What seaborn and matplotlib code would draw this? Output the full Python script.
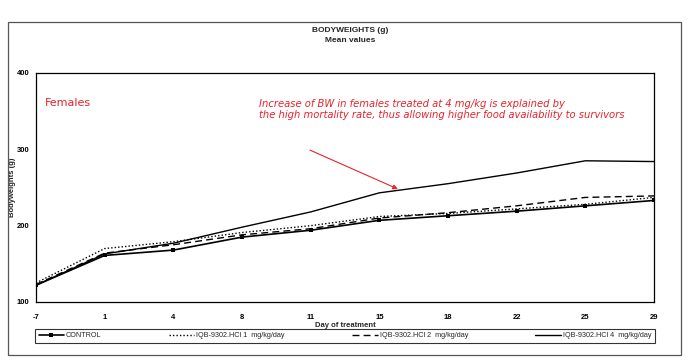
import numpy as np
import pandas as pd
import matplotlib
matplotlib.use("Agg")
import matplotlib.pyplot as plt
from matplotlib.patches import Rectangle
import seaborn as sns

days = ["-7", "1", "4", "8", "11", "15", "18", "22", "25", "29"]
control = [122, 161, 168, 185, 194, 207, 213, 219, 226, 233]
dose1 = [125, 170, 179, 191, 200, 212, 216, 222, 228, 237]
dose2 = [123, 164, 175, 188, 196, 210, 217, 226, 237, 239]
dose4 = [122, 163, 177, 198, 218, 243, 255, 269, 285, 284]

series_names = ["CONTROL", "IQB-9302.HCl 1  mg/kg/day",
                "IQB-9302.HCl 2  mg/kg/day", "IQB-9302.HCl 4  mg/kg/day"]

sns.set_theme(style="white")
plt.rcParams['font.family'] = ['Liberation Sans', 'DejaVu Sans']

rows = []
for name, vals in zip(series_names, [control, dose1, dose2, dose4]):
    for i, (d, v) in enumerate(zip(days, vals)):
        rows.append({"pos": i, "day": d, "bw": v, "group": name})
df = pd.DataFrame(rows)

fig = plt.figure(figsize=(7, 3.63), dpi=100)
ax = fig.add_axes([36 / 700, 1 - 302 / 363, (654 - 36) / 700, (302 - 73) / 363])

styles = {
    series_names[0]: dict(ls="-", lw=1.2, marker="s", ms=3.5),
    series_names[1]: dict(ls=(0, (1, 1.5)), lw=1.0, marker=None, ms=0),
    series_names[2]: dict(ls=(0, (5, 3)), lw=1.0, marker=None, ms=0),
    series_names[3]: dict(ls="-", lw=1.0, marker=None, ms=0),
}
for name in series_names:
    st = styles[name]
    sns.lineplot(data=df[df["group"] == name], x="pos", y="bw", ax=ax,
                 color="black", linestyle=st["ls"], linewidth=st["lw"],
                 marker=st["marker"], markersize=st["ms"], markeredgewidth=0,
                 label=name, legend=False)

ax.set_xlim(0, len(days) - 1)
ax.set_ylim(100, 400)
ax.set_xticks(range(len(days)))
ax.set_xticklabels(days)
ax.set_yticks([100, 200, 300, 400])
ax.tick_params(axis="both", labelsize=5.5, length=2.5, width=0.7, direction="out",
               pad=2, colors="black")
ax.tick_params(axis="x", pad=6)
for lab in ax.get_xticklabels() + ax.get_yticklabels():
    lab.set_fontweight("bold")
ax.set_xlabel("Day of treatment", fontsize=5.5, fontweight="bold", labelpad=1)
ax.set_ylabel("Bodyweights (g)", fontsize=5.5, fontweight="bold", labelpad=1)
for sp in ax.spines.values():
    sp.set_color("black")
    sp.set_linewidth(0.9)

fig.text(0.5, 1 - 31 / 363, "BODYWEIGHTS (g)", ha="center", va="center",
         fontsize=6, fontweight="bold")
fig.text(0.5, 1 - 40 / 363, "Mean values", ha="center", va="center",
         fontsize=6, fontweight="bold")

red = "#e8232a"
ax.text(0.015, 0.87, "Females", transform=ax.transAxes, color=red,
        fontsize=8, ha="left", va="center", family=["DejaVu Sans"])
ax.text(3.25, 352, "Increase of BW in females treated at 4 mg/kg is explained by\n"
        "the high mortality rate, thus allowing higher food availability to survivors",
        color=red, fontsize=7.2, style="italic", family=["DejaVu Sans"],
        ha="left", va="center", linespacing=1.1)
ax.annotate("", xy=(5.27, 248), xytext=(3.99, 299),
            arrowprops=dict(arrowstyle="-|>", color=red, lw=0.8,
                            mutation_scale=7, shrinkA=0, shrinkB=0))

# outer frame of the chart area
fig.patches.append(Rectangle((8 / 700, 1 - 355 / 363), 673 / 700, 333 / 363,
                             transform=fig.transFigure, fill=False,
                             edgecolor="#555555", lw=0.9))

handles, labels = ax.get_legend_handles_labels()
leg = fig.legend(handles, labels, loc="lower left",
                 bbox_to_anchor=(35 / 700, 1 - 343 / 363, (655 - 35) / 700, 20 / 363),
                 ncol=4, mode="expand", fontsize=5.2, frameon=True,
                 fancybox=False, edgecolor="black", handlelength=3.5,
                 handletextpad=0.3, borderaxespad=0, borderpad=0.5)
leg.get_frame().set_linewidth(0.8)
leg._legend_box.align = "left"

fig.savefig("out.png", dpi=100, facecolor="white")
